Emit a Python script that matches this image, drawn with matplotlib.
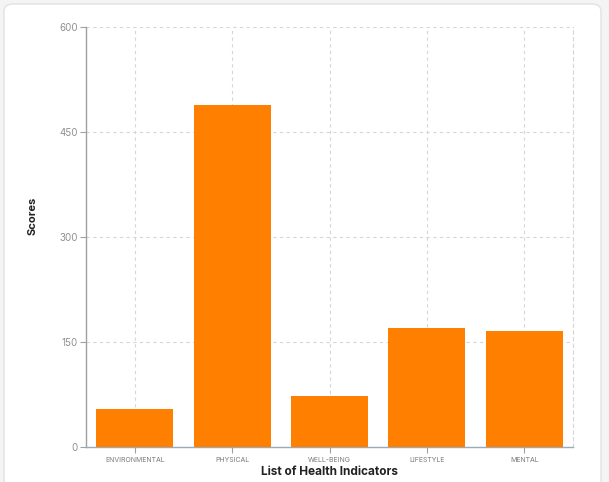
import matplotlib.pyplot as plt
from matplotlib.patches import FancyBboxPatch

categories = ["ENVIRONMENTAL", "PHYSICAL", "WELL-BEING", "LIFESTYLE", "MENTAL"]
scores = [55, 489, 73, 170, 166]
y_ticks = [0, 150, 300, 450, 600]

plt.rcParams["font.family"] = ["Inter", "DejaVu Sans"]

fig = plt.figure(figsize=(6.09, 4.82), dpi=100)
fig.patch.set_facecolor("#f4f4f4")

# card behind the chart
card = FancyBboxPatch((4 / 609, -0.05), 597 / 609, 1 - 4 / 482 + 0.05,
                      boxstyle="round,pad=0,rounding_size=0.015",
                      transform=fig.transFigure, facecolor="white",
                      edgecolor="#e2e2e2", linewidth=1.0, zorder=-10)
fig.patches.append(card)

ax = fig.add_axes([86 / 609, 1 - 447.3 / 482, 487 / 609, 420 / 482])
ax.set_facecolor("none")
ax.set_zorder(1)

x = range(len(categories))
ax.bar(x, scores, width=0.79, color="#ff7f00", zorder=3)

ax.set_xlim(-0.5, len(categories) - 0.5)
ax.set_ylim(0, 600)
ax.set_yticks(y_ticks)
ax.set_xticks(list(x))
ax.set_xticklabels(categories)

ax.grid(True, color="#d6d6d6", linestyle=(0, (3, 3)), linewidth=0.8, zorder=0)

ax.spines["top"].set_visible(False)
ax.spines["right"].set_color("#d6d6d6")
ax.spines["right"].set_linestyle((0, (3, 3)))
ax.spines["right"].set_linewidth(0.8)
ax.spines["left"].set_color("#a0a0a0")
ax.spines["bottom"].set_color("#9aaabb")
ax.spines["left"].set_linewidth(1.0)
ax.spines["bottom"].set_linewidth(1.0)

ax.tick_params(axis="y", colors="#a0a0a0", labelsize=7, length=4, width=0.8, pad=2,
               labelcolor="#8f8f8f")
ax.tick_params(axis="x", colors="#a0a0a0", labelsize=5, length=4, width=0.8, pad=3,
               labelcolor="#7a7a7a")

ax.set_ylabel("Scores", fontsize=8, fontweight="bold", color="#222222")
ax.yaxis.set_label_coords(-0.099, 0.551)
ax.set_xlabel("List of Health Indicators", fontsize=8.5, fontweight="bold",
              color="#222222", labelpad=2)

fig.savefig("out.png", dpi=100, facecolor=fig.get_facecolor())
